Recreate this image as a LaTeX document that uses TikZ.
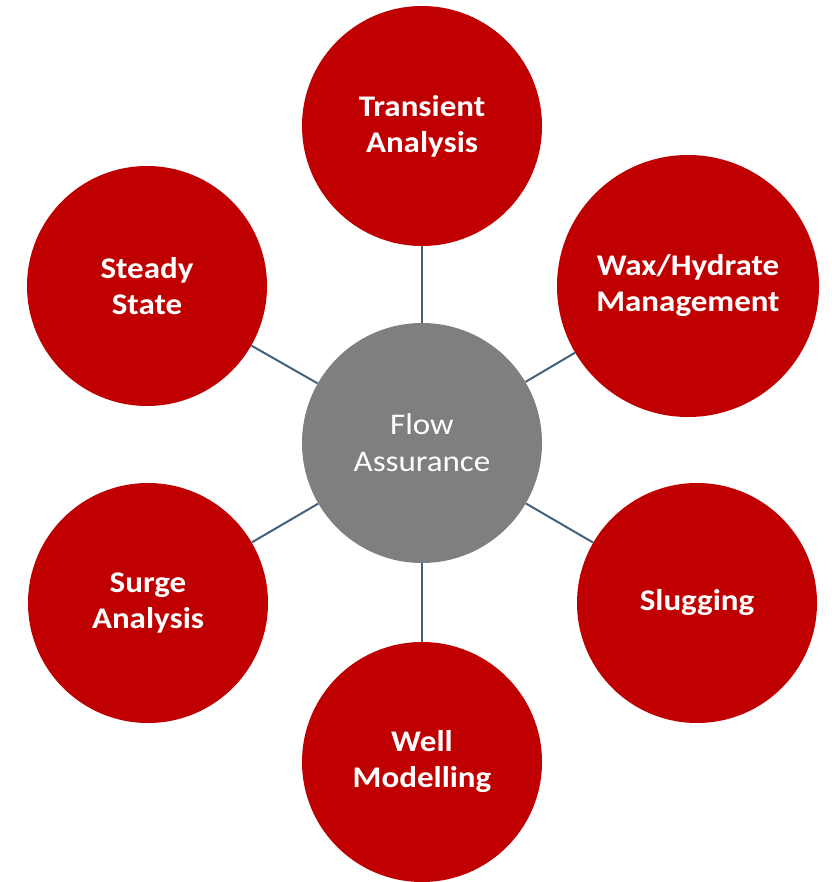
\documentclass[tikz,border=0pt]{standalone}
\usepackage{fontspec}
\setmainfont{Carlito}
\newfontfamily\widefont[FakeStretch=1.1]{Carlito}
\definecolor{fared}{HTML}{C00000}
\definecolor{fagray}{HTML}{7F7F7F}
\definecolor{faline}{HTML}{44607F}
\begin{document}
\begin{tikzpicture}[x=1pt,y=-1pt,
  bubble/.style={circle,fill=fared,draw=none,minimum size=240pt,inner sep=0pt,
    text=white,align=center,font=\widefont\fontsize{30}{36}\selectfont\bfseries},
  hub/.style={bubble,fill=fagray,font=\widefont\fontsize{30}{37}\selectfont},
  link/.style={draw=faline,line width=2pt}]
\useasboundingbox (0,0) rectangle (831,882);
\node[hub] (c) at (422,443) {Flow\\Assurance};
\node[bubble] (t) at (422,126) {Transient\\Analysis};
\node[bubble,minimum size=262pt] (w) at (688,286) {Wax/Hydrate\\Management};
\node[bubble] (s) at (147,286) {Steady\\State};
\node[bubble] (g) at (148,603) {Surge\\Analysis};
\node[bubble] (l) at (697,603) {Slugging};
\node[bubble] (m) at (422,762) {Well\\Modelling};
\foreach \n in {t,w,s,g,l,m} \draw[link] (c) -- (\n);
\end{tikzpicture}
\end{document}
